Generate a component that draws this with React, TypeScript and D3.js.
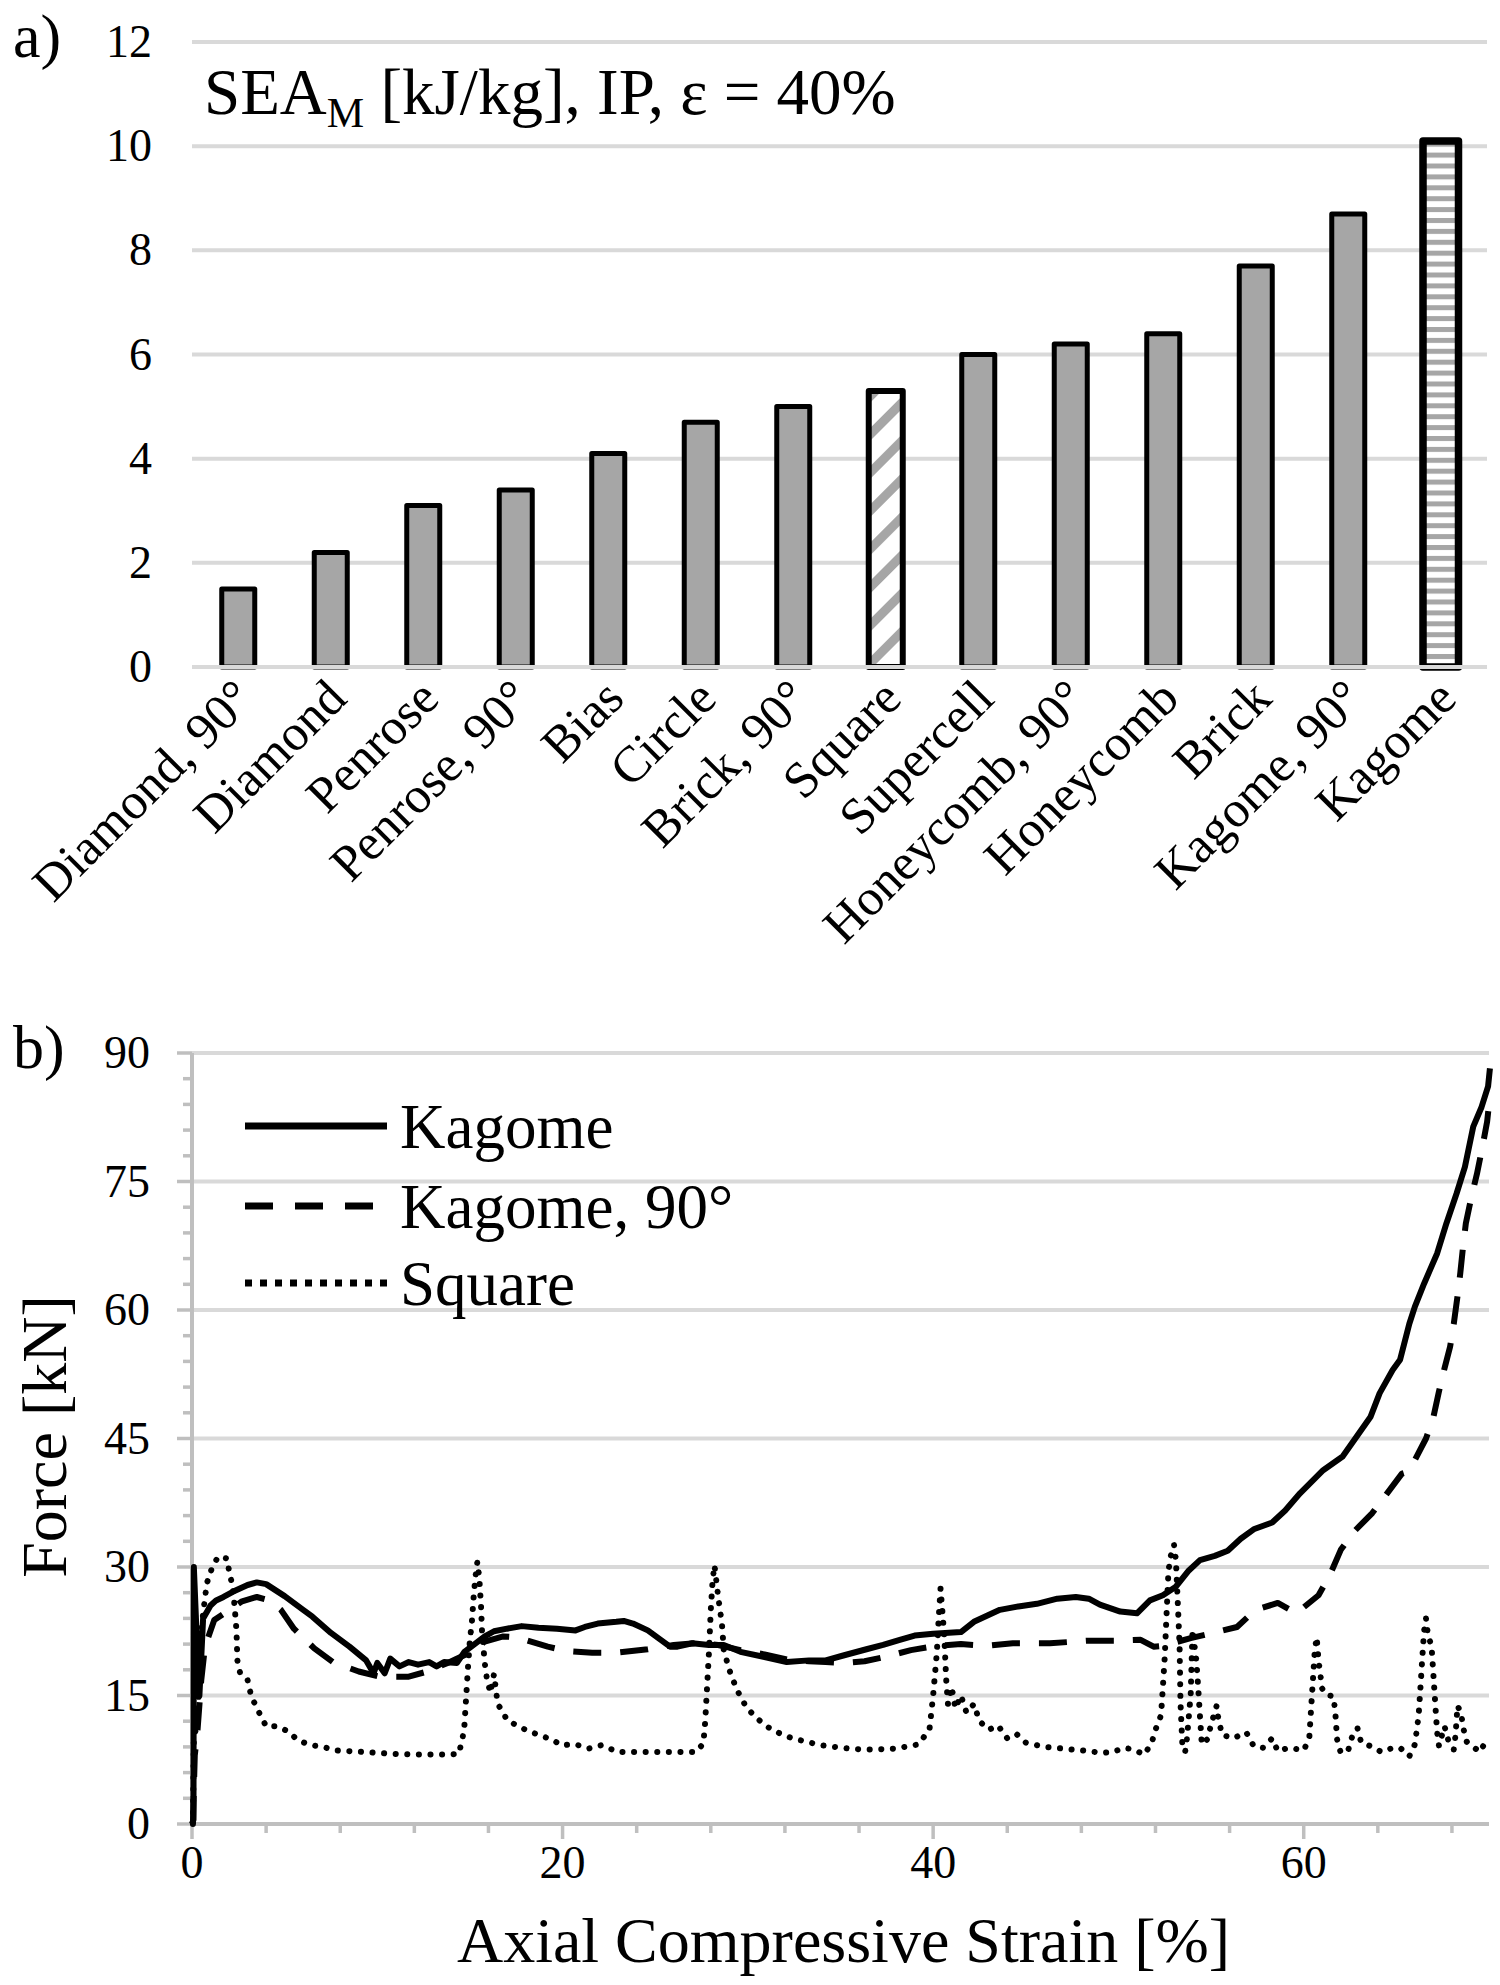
import React from "react";
import * as d3 from "d3";

// ---------- Panel a) data ----------
const categories = [
  "Diamond, 90°", "Diamond", "Penrose", "Penrose, 90°", "Bias", "Circle", "Brick, 90°",
  "Square", "Supercell", "Honeycomb, 90°", "Honeycomb", "Brick", "Kagome, 90°", "Kagome",
];
const seaValues = [1.5, 2.2, 3.1, 3.4, 4.1, 4.7, 5.0, 5.3, 6.0, 6.2, 6.4, 7.7, 8.7, 10.1];
const seaTicks = [0, 2, 4, 6, 8, 10, 12];

// ---------- Panel b) data: [strain %, force kN] ----------
const kagomeData: [number, number][] = [
  [0, 0], [0.08, 0.5], [0.1, 30], [0.25, 22], [0.4, 15], [0.6, 24], [1.0, 25.5], [1.3, 26.1],
  [1.7, 26.5], [2.2, 27.1], [3.0, 27.9], [3.5, 28.2], [4.0, 28.0], [5.0, 26.6], [6.0, 25],
  [6.5, 24.2], [7.5, 22.3], [8.5, 20.7], [9.4, 19.1], [9.8, 17.6], [10.0, 18.8], [10.4, 17.6],
  [10.7, 19.3], [11.2, 18.4], [11.7, 18.9], [12.2, 18.6], [12.8, 18.9], [13.2, 18.4], [13.6, 18.9],
  [14.3, 18.8], [14.7, 20.1], [15.2, 20.9], [15.8, 21.9], [16.3, 22.5], [17.0, 22.8], [17.8, 23.1],
  [18.7, 22.9], [19.7, 22.8], [20.7, 22.6], [21.2, 23.0], [21.9, 23.4], [22.9, 23.6], [23.3, 23.7],
  [23.8, 23.4], [24.6, 22.6], [25.3, 21.5], [25.8, 20.7], [26.2, 20.7], [27.0, 21.1], [27.9, 20.9],
  [28.7, 20.9], [29.6, 20.1], [30.9, 19.5], [32.1, 18.9], [33.3, 19.1], [34.2, 19.1], [35.2, 19.7],
  [36.4, 20.4], [37.3, 20.9], [38.2, 21.5], [39.0, 22.0], [40.0, 22.2], [41.5, 22.4], [42.2, 23.6],
  [43.6, 25.0], [44.6, 25.4], [45.6, 25.7], [46.7, 26.3], [47.7, 26.5], [48.4, 26.3], [49.0, 25.6],
  [50.1, 24.8], [51.0, 24.6], [51.7, 26.1], [52.4, 26.7], [53.1, 27.7], [53.8, 29.6], [54.4, 30.8],
  [55.2, 31.3], [55.9, 31.9], [56.6, 33.3], [57.3, 34.4], [58.3, 35.2], [59.0, 36.6], [59.8, 38.6],
  [61.05, 41.3], [62.1, 42.9], [62.85, 45.2], [63.6, 47.5], [64.1, 50.3], [64.8, 53.0], [65.2, 54.2],
  [65.7, 58.4], [66.0, 60.4], [66.5, 63.1], [67.2, 66.6], [67.7, 70.1], [68.25, 73.6], [68.7, 76.7],
  [69.15, 81.4], [69.6, 83.7], [69.95, 86.1], [70.05, 88.2],
];

const kagome90Data: [number, number][] = [
  [0.05, 0], [0.15, 8], [0.3, 11], [0.5, 16.8], [0.7, 20.7], [1.2, 23.8], [2.3, 25.4], [2.7, 26],
  [3.5, 26.5], [4.2, 26.1], [4.8, 25], [5.5, 22.8], [6.6, 20.5], [7.6, 18.9], [9.0, 17.8],
  [10.1, 17.2], [11.7, 17.2], [12.7, 17.8], [13.8, 18.8], [14.9, 19.9], [15.8, 21.3], [16.8, 21.9],
  [17.5, 21.8], [19.2, 20.7], [20.2, 20.2], [21.6, 20.0], [22.9, 20.0], [24.6, 20.4], [26.0, 20.9],
  [27.2, 21.1], [28.4, 20.9], [29.6, 20.3], [30.9, 19.8], [32.1, 19.2], [33.3, 19.0], [34.2, 18.9],
  [35.2, 18.8], [36.3, 19.0], [37.4, 19.5], [38.8, 20.3], [40.2, 20.8], [41.5, 21.0], [42.9, 20.8],
  [44.3, 21.1], [46.3, 21.1], [48.4, 21.4], [49.9, 21.4], [51.2, 21.5], [51.9, 20.7], [52.4, 20.8],
  [53.9, 21.7], [55.1, 22.3], [56.4, 23.0], [57.4, 25.0], [58.6, 25.8], [59.6, 24.6], [60.8, 26.7],
  [61.4, 29.0], [62.0, 32.0], [62.7, 34.1], [63.7, 36.3], [64.5, 38.6], [65.3, 40.9], [65.6, 41.1],
  [66.0, 42.5], [66.6, 45.0], [67.0, 47.5], [67.3, 50.5], [67.6, 53.2], [67.9, 55.7], [68.1, 58.4],
  [68.3, 61.6], [68.45, 64.3], [68.6, 67.4], [68.75, 70.1], [69.05, 73.2], [69.35, 75.9], [69.65, 79.1],
  [69.9, 82.0], [70.0, 84.0],
];

const squareData: [number, number][] = [
  [0.05, 0], [0.1, 10], [0.3, 12], [0.5, 22], [0.6, 24.6], [0.8, 28.1], [1.05, 29.7], [1.4, 31.2],
  [1.9, 31.0], [2.0, 29.5], [2.2, 27.7], [2.3, 25.4], [2.4, 22.6], [2.45, 19.1], [2.6, 17.6],
  [3.0, 16.8], [3.2, 14.9], [3.6, 13.1], [4.0, 11.4], [4.6, 11.4], [5.2, 10.8], [5.7, 9.8],
  [6.4, 9.2], [7.1, 9.0], [7.7, 8.6], [9.3, 8.4], [10.7, 8.2], [12.2, 8.1], [13.8, 8.1], [14.4, 8.2],
  [14.6, 10.0], [14.7, 11.4], [14.8, 14.9], [14.9, 18.4], [15.0, 21.5], [15.1, 23.4], [15.2, 26.5],
  [15.3, 28.9], [15.4, 30.6], [15.5, 28.9], [15.6, 25.4], [15.65, 22.6], [15.8, 18.8], [15.9, 17.2],
  [16.1, 15.3], [16.3, 17.5], [16.5, 14], [16.8, 13], [17.0, 12.1], [18.0, 11.0], [18.7, 10.4],
  [19.5, 9.8], [19.9, 9.2], [20.7, 9.3], [21.4, 8.8], [22.1, 9.2], [23.0, 8.4], [24.3, 8.4],
  [25.8, 8.4], [27.2, 8.4], [27.6, 9.4], [27.7, 12], [27.8, 16], [27.9, 20], [28.0, 25], [28.1, 28.5],
  [28.2, 30.2], [28.4, 26.5], [28.6, 23.4], [28.7, 20.3], [29.0, 18.0], [29.2, 16.8], [29.5, 15.3],
  [29.9, 13.7], [30.4, 12.5], [31.0, 11.4], [31.7, 10.6], [32.4, 10.0], [33.2, 9.6], [33.9, 9.2],
  [34.7, 9.0], [35.5, 8.8], [36.2, 8.7], [36.9, 8.7], [38.0, 8.8], [39.2, 9.3], [39.8, 11],
  [40.0, 15], [40.2, 20], [40.3, 24], [40.4, 27.5], [40.6, 22], [40.7, 17], [40.8, 14], [41.0, 16],
  [41.2, 13.5], [41.5, 15], [41.8, 13], [42.2, 14], [42.5, 12], [43.0, 11], [43.5, 11.5], [44.0, 10],
  [44.5, 10.5], [45.0, 9.5], [46.0, 9], [47.0, 8.8], [48.5, 8.5], [49.0, 8.3], [49.7, 8.4],
  [50.3, 8.9], [50.8, 8.7], [51.4, 8.1], [51.8, 9.5], [52.0, 11.0], [52.3, 12.7], [52.4, 16.0],
  [52.5, 19.5], [52.6, 24.6], [52.7, 29.5], [52.8, 31.1], [53.0, 32.6], [53.1, 30.9], [53.2, 26.0],
  [53.3, 20.9], [53.35, 14.1], [53.45, 9.3], [53.6, 8.4], [53.7, 10.0], [53.9, 15.1], [54.0, 22.7],
  [54.2, 19.2], [54.3, 16.1], [54.4, 12.6], [54.5, 9.3], [54.8, 9.9], [55.0, 11.6], [55.3, 13.8],
  [55.4, 12.2], [55.6, 10.4], [56.2, 10.0], [56.9, 10.7], [57.3, 9.1], [57.8, 8.9], [58.3, 10.0],
  [58.6, 8.5], [59.2, 8.9], [60.0, 8.6], [60.3, 10.0], [60.4, 13.5], [60.5, 16.9], [60.6, 20.3],
  [60.7, 21.8], [60.8, 19.1], [60.9, 17.4], [61.0, 15.8], [61.2, 15.1], [61.6, 14.9], [61.7, 13.2],
  [61.8, 9.9], [62.0, 8.3], [62.4, 8.6], [62.6, 10.1], [62.9, 11.2], [63.1, 9.5], [63.6, 9.1],
  [64.2, 8.4], [64.7, 8.8], [65.2, 8.9], [65.7, 7.9], [66.0, 9.3], [66.2, 12.6], [66.3, 15.9],
  [66.4, 19.4], [66.5, 22.6], [66.6, 24.0], [66.7, 22.2], [66.9, 20.7], [67.0, 17.4], [67.1, 14.0],
  [67.2, 10.7], [67.3, 9.1], [67.4, 9.9], [67.6, 11.4], [67.8, 9.8], [68.1, 8.7], [68.2, 10.5],
  [68.3, 13.8], [68.5, 12.9], [68.6, 11.3], [68.8, 9.6], [69.1, 9.1], [69.5, 8.4], [69.9, 9.9],
];

const forceTicks = [0, 15, 30, 45, 60, 75, 90];
const strainTicks = [0, 20, 40, 60];
const legendLabels = ["Kagome", "Kagome, 90°", "Square"];

const FONT = "'Liberation Serif', 'Times New Roman', serif";
const GRID = "#d9d9d9";
const AXIS = "#bfbfbf";
const BAR = "#a6a6a6";

export default function App() {
  // ---- Panel a scales ----
  const aLeft = 192, aRight = 1487, aTop = 42, aBottom = 667;
  const xA = d3.scaleBand<string>().domain(categories).range([aLeft, aRight]).paddingInner(0.64).paddingOuter(0.32);
  const yA = d3.scaleLinear().domain([0, 12]).range([aBottom, aTop]);

  // ---- Panel b scales ----
  const bLeft = 192, bRight = 1489, bTop = 1053, bBottom = 1824;
  const xB = d3.scaleLinear().domain([0, 70]).range([bLeft, bRight]);
  const yB = d3.scaleLinear().domain([0, 90]).range([bBottom, bTop]);
  const line = d3.line<[number, number]>().x((d) => xB(d[0])).y((d) => yB(d[1]));

  const minorY = d3.range(0, 91, 3);
  const minorX = d3.range(0, 71, 4);

  const series = [
    { data: kagomeData, dash: undefined as string | undefined, cap: "butt" as const, w: 6 },
    { data: kagome90Data, dash: "28 19", cap: "butt" as const, w: 6 },
    { data: squareData, dash: "0.1 11.5", cap: "round" as const, w: 6 },
  ];

  const legendY = [1126, 1206, 1283];
  const legendDash = [undefined, "28 22", "7 8"];

  return (
    <svg width={1500} height={1985} style={{ position: "absolute", left: 0, top: 0, background: "#fff" }} fontFamily={FONT}>
      <defs>
        <pattern id="diag" patternUnits="userSpaceOnUse" width={27} height={27} patternTransform="rotate(45)">
          <rect width={27} height={27} fill="#fff" />
          <rect width={9} height={27} fill={BAR} />
        </pattern>
        <pattern id="horiz" patternUnits="userSpaceOnUse" width={11} height={10.9}>
          <rect width={11} height={10.9} fill="#fff" />
          <rect width={11} height={5} fill={BAR} />
        </pattern>
      </defs>
      <rect x={0} y={0} width={1500} height={1985} fill="#fff" />

      {/* ===== Panel a ===== */}
      <text x={13} y={57} fontSize={62}>a)</text>
      {seaTicks.map((t) => (
        <g key={"ga" + t}>
          <line x1={aLeft} x2={aRight} y1={yA(t)} y2={yA(t)} stroke={GRID} strokeWidth={4} />
          <text x={152} y={yA(t) + 15} fontSize={46} textAnchor="end">{t}</text>
        </g>
      ))}
      <text x={204} y={114} fontSize={65}>
        SEA<tspan fontSize={42} dy={13}>M</tspan><tspan dy={-13}> [kJ/kg], IP, ε = 40%</tspan>
      </text>
      {categories.map((c, i) => {
        const cx = (xA(c) as number) + xA.bandwidth() / 2;
        const isKag = c === "Kagome";
        const isSq = c === "Square";
        const sw = isKag ? 7.5 : isSq ? 6 : 5;
        const inner = 28;
        const w = inner + sw;
        const fill = isKag ? "url(#horiz)" : isSq ? "url(#diag)" : BAR;
        return (
          <rect key={c} x={cx - w / 2} y={yA(seaValues[i])} width={w} height={aBottom - yA(seaValues[i])}
            fill={fill} stroke="#000" strokeWidth={sw} strokeLinejoin="round" />
        );
      })}
      <line x1={aLeft} x2={aRight} y1={aBottom} y2={aBottom} stroke={GRID} strokeWidth={4} />
      {categories.map((c) => {
        const cx = (xA(c) as number) + xA.bandwidth() / 2;
        return (
          <text key={"l" + c} transform={`translate(${cx + 18},${aBottom + 34}) rotate(-45)`} fontSize={51} textAnchor="end">{c}</text>
        );
      })}

      {/* ===== Panel b ===== */}
      <text x={13} y={1068} fontSize={62}>b)</text>
      {forceTicks.filter((t) => t > 0).map((t) => (
        <line key={"gb" + t} x1={bLeft} x2={bRight} y1={yB(t)} y2={yB(t)} stroke={GRID} strokeWidth={4} />
      ))}
      {minorY.map((t) => (
        <line key={"my" + t} x1={t % 15 === 0 ? bLeft - 15 : bLeft - 9} x2={bLeft} y1={yB(t)} y2={yB(t)} stroke={AXIS} strokeWidth={3.5} />
      ))}
      {minorX.map((t) => (
        <line key={"mx" + t} x1={xB(t)} x2={xB(t)} y1={bBottom} y2={t % 20 === 0 ? bBottom + 15 : bBottom + 9} stroke={AXIS} strokeWidth={3.5} />
      ))}
      <line x1={bLeft} x2={bLeft} y1={bTop} y2={bBottom} stroke={AXIS} strokeWidth={4} />
      <line x1={bLeft} x2={bRight} y1={bBottom} y2={bBottom} stroke={AXIS} strokeWidth={4} />
      {forceTicks.map((t) => (
        <text key={"fy" + t} x={150} y={yB(t) + 15} fontSize={46} textAnchor="end">{t}</text>
      ))}
      {strainTicks.map((t) => (
        <text key={"sx" + t} x={xB(t)} y={1878} fontSize={46} textAnchor="middle">{t}</text>
      ))}
      <text x={(bLeft + bRight) / 2 + 3} y={1962} fontSize={64} textAnchor="middle">Axial Compressive Strain [%]</text>
      <text transform={`translate(66,${(bTop + bBottom) / 2 - 2}) rotate(-90)`} fontSize={64} textAnchor="middle">Force [kN]</text>

      {series.map((s, i) => (
        <path key={"s" + i} d={line(s.data) as string} fill="none" stroke="#000" strokeWidth={s.w}
          strokeDasharray={s.dash} strokeLinecap={s.cap} strokeLinejoin="round" />
      ))}

      {legendLabels.map((l, i) => (
        <g key={"lg" + i}>
          <line x1={245} x2={387} y1={legendY[i]} y2={legendY[i]} stroke="#000" strokeWidth={7}
            strokeDasharray={legendDash[i]} />
          <text x={400} y={legendY[i] + 22} fontSize={63}>{l}</text>
        </g>
      ))}
    </svg>
  );
}
